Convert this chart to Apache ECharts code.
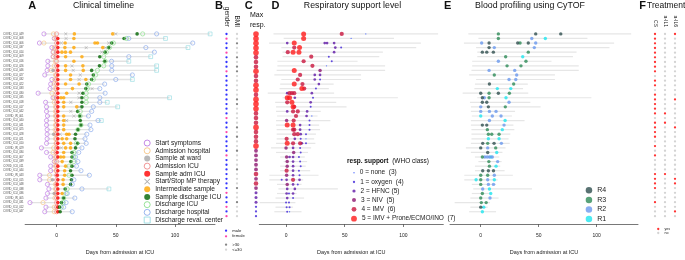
<!DOCTYPE html>
<html>
<head>
<meta charset="utf-8">
<script src="https://cdn.jsdelivr.net/npm/echarts@6/dist/echarts.min.js"></script>
<style>html,body{margin:0;padding:0;background:#fff}#main{width:685px;height:260px}</style>
</head>
<body>
<div id="main"></div>
<script>
// patients, top row = longest ICU stay
var patients = ['COVID_ICU_049','COVID_ICU_008','COVID_ICU_006','COVID_ICU_037','COVID_ICU_014','COVID_ICU_009','COVID_ICU_016','COVID_ICU_026','COVID_ICU_046','COVID_ICU_027',
  'COVID_ICU_032','COVID_ICU_022','COVID_ICU_033','COVID_ICU_030','COVID_ICU_035','COVID_ICU_018','COVID_ICU_017','COVID_ICU_042','COVID_IR_001','COVID_ICU_040',
  'COVID_ICU_041','COVID_ICU_025','COVID_ICU_028','COVID_ICU_021','COVID_ICU_010','COVID_IR_029','COVID_ICU_034','COVID_ICU_007','COVID_ICU_039','COVID_ICU_011',
  'COVID_ICU_044','COVID_IR_043','COVID_ICU_015','COVID_ICU_048','COVID_ICU_038','COVID_ICU_036','COVID_IR_005','COVID_ICU_031','COVID_ICU_012','COVID_ICU_047'];

// A: clinical timeline (days from ICU admission)
var startSym = [-10.7,-2,-14.5,-4,-3,-3,-7.4,-7.4,-8,-10,-4,-5,-5.5,-15.6,-3,-9.3,-8.5,-8.5,-7.7,-8.5,
  -8.5,-8,-8,-8,-8.5,-12.8,-8.5,-5,-2,-5,-5,-14.2,-14.2,-7.7,-6.5,-7.7,-9,-22.5,-9,-10];
var admHosp = [-2.7,-1.3,-10.7,-2,-2.5,-2.5,-1,-2,-4.5,-1,-1.3,-2,-1,-4,-2,-2,-1,-1,-1,-0.5,
  -1,-1.3,-1.3,-1,-0.5,-2.5,-3,-1,-1.3,-1,-0.5,-6,-6,-1,-1,-1,-1.5,-11.5,-2,-2];
var sampleWard = [null,null,null,null,null,null,null,null,-3,null,null,null,null,null,null,null,null,null,null,null,
  null,null,-2.5,null,null,null,null,null,null,null,null,null,-3.5,null,null,-2,null,null,null,null];
var admICU = [0,0,0,0,0,-0.5,0,0,0,0,0,0,0,0,0,0,0,0,0,0,
  0,0,0,0,0,0,-0.5,0,0,0,0,0,0,0,0,0,0,0,0,0];
var sampleAdm = [null,1,1,1,1,1,null,1,1,1,1,1,1,1,1,1,1,1,1,1,
  1,1,1,1,1,1,0.5,1,null,1,1,0.5,1,0.5,1,1,1,1,1,1];
var mpTherapy = [[7.7,50],[8],[4,44],[25,41.5],[38],[],[],[13],[14],[20],[19],[],[30],[19],[19],[12],[19],[12],[14.6],[8.5],
  [],[],[3],[],[],[4],[],[],[],[],[],[],[],[],[],[],[],[],[],[]];
var interSample = [[15,47.4],[14.6],[7.2,32.4,34.5],[7,14.6,39],[4.5,7.5,11.7],[7.6,21.4],[14.6],[7.6,22.2],[7.6,22.5],[11.8],
  [11.8,24.7],[7.6,19],[13.4],[8.5],[3.7,6],[6],[6,17],[],[6],[6],
  [6],[6],[8.5,10.5],[4.7,8.5],[6,11.8],[7.6,11.8],[6],[3.5,6],[4.7],[7.6],
  [6.8],[6.8],[5.5],[5.5],[],[4.7],[],[],[],[]];
var sampleDisICU = [68,57,46.6,44,41,36.5,40.6,36.2,29.6,31,29.6,25.5,24.7,22.2,21.4,21.4,21.4,17.8,19.5,20,
  20.6,18,16,15.5,17.8,16,13,13,12,13,11.8,13,12.5,11.8,7.2,null,6,4.1,2.5,3];
var disICU = [72.7,59,48,44.7,42,39.8,41,39.8,34.5,33,31,27,26,25,25,25,null,20,20,null,
  20.6,18,null,null,16.8,null,14.6,14.6,14.6,10.5,null,10.5,null,null,9,8,6,5.5,4,null];
var disHosp = [84.5,61,115,75.4,82.6,61,46.4,46.6,46.6,64,50,40.6,36.5,41,36.5,36.5,31,29.6,26.9,35,
  28.2,29,25.5,24,25,21.4,18.7,16,18,16.8,20.6,27.7,14.6,13.2,21.4,9,15.4,8,6,13.2];
var disReval = [129.7,92,null,111,null,79.5,61,84.5,84.5,null,64,null,null,null,95.4,42.8,51.6,null,null,37.8,
  null,null,null,null,null,null,null,null,null,null,null,null,null,null,44.2,null,null,null,null,null];

// B: gender / BMI, rows where female or BMI > 30
var femaleRows = [1,4,8,18,21,26,34,37,39];
var bmiHighRows = [2,5,7,8,14,15,20,22,25,29,33,36];

// C: max respiratory support level per patient
var maxResp = [5,5,5,5,5,4,4,4,5,4,4,5,5,4,5,5,5,4,4,4,5,4,4,4,5,3,3,3,3,3,4,3,4,3,2,2,2,1,1,1];

// D: respiratory support [day, level]
var respRows = [
  [[15,5],[47.5,4],[68,0]], [[15,5],[55.5,0]], [[1,2],[7,5],[33,2],[35,2],[41,2]], [[7,4],[11.5,5],[42,2],[47,1]],
  [[1.5,4],[6,5],[11,5],[41,2]], [[21.5,4],[36.5,1]], [[15,4],[39,1]], [[22.5,4],[34.5,0]], [[7,5],[29,3]],
  [[12,4],[24.5,2],[29,2]], [[10,4],[24.5,2],[29,1]], [[7,5],[14,4],[28,2]], [[13.5,5],[15.5,4],[25.5,1]],
  [[1,2],[3,4],[5,4],[7,4],[22,2]], [[1,5],[3,5],[7.5,2],[23,1]], [[1,4],[5,5],[21,2]], [[6,5],[7,4],[21,1]],
  [[1,2],[6,4],[10,4],[18,2]], [[8.5,4],[17.5,2],[22,0]], [[0.5,3],[6.5,4],[20,1]], [[1,5],[6,5],[12,2],[20,1]],
  [[6,4],[7,4],[12,2],[20,1]], [[7,4],[10,4],[12.5,2],[17,1]], [[0.5,4],[7.5,2],[12.5,1],[17,0]],
  [[1,5],[6,4],[12,4],[13.5,2],[17,1]], [[0,3],[6,2],[12,1]], [[6.5,3],[12.5,1]], [[0.5,3],[3,2],[6,2],[11,1]],
  [[1,3],[6,2],[12,1]], [[1,3],[6,2],[12.5,1]], [[0.5,4],[6,2],[11,1]], [[0.5,3],[6,2],[11.5,1]],
  [[-3.7,1],[0.5,2],[6,4],[11.5,2]], [[1,3],[6,2],[10,1]], [[1,2],[7.5,2]], [[0.5,2],[2.5,1],[6,2]],
  [[1,2],[6,1]], [[0,1],[2.5,1]], [[0.5,1],[3,1]], [[1,1],[3,0]]
];
var respNames = ['0 = none  (3)','1 = oxygen  (4)','2 = HFNC (5)','3 = NIV  (5)','4 = IMV  (6)','5 = IMV + Prone/ECMO/INO  (7)'];

// E: CyTOF samples [day, cluster 1..4]
var cytofRows = [
  [[15.2,3],[47.4,4],[69,4]], [[15.2,3],[44,2],[55.7,1]], [[0.8,2],[7.2,4],[31.9,4],[33.9,3],[41,4],[47.4,2]],
  [[7.2,4],[11.7,2],[46.2,2]], [[1.4,4],[5.2,4],[10.9,4],[41,3]], [[21.5,3],[36.2,1]], [[15.2,2],[39,3]],
  [[22.7,3],[34.7,3]], [[7.2,2],[29.3,2]], [[11.7,3],[31,2]], [[24.4,2],[30.2,2]], [[7.5,4],[28.4,3]],
  [[14.3,1],[25.9,1]], [[0,4],[7.2,3],[15.2,4],[24.7,3]], [[1.4,4],[3.1,2],[7.2,3],[21.8,1]],
  [[1.4,4],[5.2,4],[24.4,2]], [[0,2],[6.6,4],[21.2,3]], [[0,2],[7.5,2],[13.2,2]], [[0,1],[10,2],[17.5,2]],
  [[7.5,2],[21,1]], [[1.4,4],[5.2,4],[20.1,2]], [[5.7,3],[18.6,1]], [[6.6,3],[9.5,3],[15.8,3]],
  [[6.6,1],[15.8,1]], [[1.7,4],[6,3],[11.5,4],[17.8,2]], [[0,4],[6,2],[12.9,3]], [[6,4],[13.8,1]],
  [[1.4,3],[3.5,2],[5.5,2],[7.5,2],[8.8,1],[10,2]], [[7,3],[14.6,2]], [[7.5,3],[13.2,1]],
  [[1.7,4],[6.6,4],[11,4]], [[0,3],[6,3],[11.7,2]], [[-4,1],[0,3],[6,2],[11.7,1]], [[0,3],[6.6,2],[11,2]],
  [[1.7,2],[7.5,1]], [[1.4,3],[8.6,1]], [[0,3],[8,2]], [[0.5,3],[4.7,3]], [[0,4],[2.6,1]], [[1.4,1]]
];

// F: treatments, rows with yes
var treatNames = ['CS','a-IL1','a-IL6'];
var treatYes = [
  [0,1,2,3,4,5,6,7,8,10,11,13,14,15,16,17,19,20,21,22,24,26,30,31,32,33,36],
  [17,19,30],
  [0,14,20,31,32,38]
];

var dayTicks = [0, 50, 100];

var FONT = 'Liberation Sans, Arial, sans-serif';
var GRID_TOP = 30, GRID_H = 198.7, Y_MIN = -0.857, Y_MAX = 41.69;
var lvlColors = ['#3d5cff','#3f22d8','#5f18a6','#8c156f','#c9163f','#ff1a1a'];
var lvlSizeD = [1.3, 2, 2.7, 3.5, 4.2, 5];
var lvlSizeC = [1.6, 2.3, 3, 3.8, 4.6, 5.6];
var clusterNames = ['R1','R2','R3','R4'];
var clusterColors = ['#1fe6ef','#6a98ee','#2e8b57','#2f4f4f'];
var crossPath = 'path://M0,1L1,0L5,4L9,0L10,1L6,5L10,9L9,10L5,6L1,10L0,9L4,5Z';

var lineStart = [], lineEnd = [];
patients.forEach(function (p, i) {
  var vals = [startSym[i], admHosp[i], admICU[i], sampleAdm[i], sampleDisICU[i], disICU[i], disHosp[i], disReval[i]]
    .concat(interSample[i], mpTherapy[i]).filter(function (v) { return v != null; });
  lineStart.push(Math.min.apply(null, vals));
  lineEnd.push(Math.max.apply(null, vals));
});

function single(arr) {
  var out = [];
  arr.forEach(function (d, i) { if (d != null) out.push([d, i]); });
  return out;
}
function multi(arr) {
  var out = [];
  arr.forEach(function (l, i) { l.forEach(function (d) { out.push([d, i]); }); });
  return out;
}

function rowLines(ax, color, width) {
  return {
    type: 'custom', xAxisIndex: ax, yAxisIndex: ax, silent: true, z: 1,
    data: patients.map(function (p, i) { return [lineStart[i], lineEnd[i], i]; }),
    encode: { x: [0, 1], y: 2 },
    renderItem: function (params, api) {
      var a = api.coord([api.value(0), api.value(2)]);
      var b = api.coord([api.value(1), api.value(2)]);
      return { type: 'line', shape: { x1: a[0], y1: a[1], x2: b[0], y2: b[1] }, style: { stroke: color, lineWidth: width } };
    }
  };
}

// hollow markers: transparent fill with a thin coloured ring
function evt(name, data, symbol, color, size, hollow) {
  var s = { type: 'scatter', name: name, data: data, xAxisIndex: 0, yAxisIndex: 0, symbol: symbol, symbolSize: size, z: 3, silent: true };
  s.itemStyle = hollow ? { color: 'rgba(255,255,255,0)', borderColor: color, borderWidth: 0.75 } : { color: color };
  return s;
}

function daysAxis(grid, min, max) {
  return {
    type: 'value', gridIndex: grid, min: min, max: max,
    name: 'Days from admission at ICU', nameLocation: 'middle', nameGap: 25,
    nameTextStyle: { fontSize: 5.5, color: '#222' },
    axisLine: { show: true, onZero: false, lineStyle: { color: '#555', width: 0.8 } },
    axisTick: { show: true, customValues: dayTicks, length: 3, lineStyle: { color: '#555', width: 0.8 } },
    axisLabel: { customValues: dayTicks, fontSize: 5, margin: 9, color: '#222' },
    splitLine: { show: false }
  };
}
function rowAxis(grid) {
  return { type: 'value', gridIndex: grid, inverse: true, min: Y_MIN, max: Y_MAX, show: false };
}
function colAxis(grid, names, size) {
  return {
    type: 'category', gridIndex: grid, data: names, position: 'top',
    axisLine: { show: false, onZero: false }, axisTick: { show: false },
    axisLabel: { rotate: 90, fontSize: size, margin: 3, color: '#222', interval: 0 }
  };
}

var grids = [
  { left: 20, width: 195, top: GRID_TOP, height: GRID_H },       // A
  { left: 221.25, width: 21, top: GRID_TOP, height: GRID_H },    // B
  { left: 250, width: 12, top: GRID_TOP, height: GRID_H },       // C
  { left: 259.3, width: 184, top: GRID_TOP, height: GRID_H },    // D
  { left: 450, width: 188, top: GRID_TOP, height: GRID_H },      // E
  { left: 650, width: 30, top: GRID_TOP, height: GRID_H }        // F
];

var yAxes = [0, 1, 2, 3, 4, 5].map(rowAxis);
yAxes[0] = {
  type: 'value', gridIndex: 0, inverse: true, min: Y_MIN, max: Y_MAX,
  axisLine: { show: false }, axisTick: { show: false }, splitLine: { show: false },
  axisLabel: {
    customValues: patients.map(function (p, i) { return i; }),
    formatter: function (v) { return patients[v] || ''; },
    fontSize: 2.7, margin: 1.5, color: '#444'
  }
};

var series = [
  rowLines(0, '#e2e2e2', 1.3),
  evt('Start symptoms', single(startSym), 'circle', '#b56be0', 4.2, true),
  evt('Admission hospital', single(admHosp), 'circle', '#f5bf79', 4.2, true),
  evt('Sample at ward', single(sampleWard), 'circle', '#a8a8a8', 3.6),
  evt('Admission ICU', single(admICU), 'circle', '#ee7d7d', 4.2, true),
  evt('Sample adm ICU', single(sampleAdm), 'circle', '#ff0000', 3.6),
  evt('Start/Stop MP therapy', multi(mpTherapy), crossPath, '#9a9a9a', 3.4),
  evt('Intermediate sample', multi(interSample), 'circle', '#ffa500', 3.6),
  evt('Sample discharge ICU', single(sampleDisICU), 'circle', '#006400', 3.6),
  evt('Discharge ICU', single(disICU), 'circle', '#7edc7e', 4.2, true),
  evt('Discharge hospital', single(disHosp), 'circle', '#7ea2ea', 4.2, true),
  evt('Discharge reval. center', single(disReval), 'rect', '#8fd8e0', 3.8, true)
];
var legendA = series.slice(1).map(function (s) { return s.name; });

// B
var male = [], female = [], bmiHi = [], bmiLo = [];
patients.forEach(function (p, i) {
  (femaleRows.indexOf(i) >= 0 ? female : male).push([0, i]);
  (bmiHighRows.indexOf(i) >= 0 ? bmiHi : bmiLo).push([1, i]);
});
[['male', male, '#0000ff'], ['female', female, '#ff1493'], ['>30', bmiHi, '#666666'], ['<=30', bmiLo, '#cccccc']].forEach(function (d) {
  series.push({ type: 'scatter', name: d[0], data: d[1], xAxisIndex: 1, yAxisIndex: 1, symbolSize: 2.3, itemStyle: { color: d[2] }, silent: true });
});

// C
series.push({
  type: 'scatter', name: 'maxResp', xAxisIndex: 2, yAxisIndex: 2, silent: true,
  data: maxResp.map(function (l, i) { return [0.5, i, l]; }),
  symbolSize: function (v) { return lvlSizeC[v[2]]; },
  itemStyle: { color: function (p) { return lvlColors[p.value[2]]; } }
});

// D
series.push(rowLines(3, '#e6e6e6', 1.2));
respNames.forEach(function (name, lvl) {
  var data = [];
  respRows.forEach(function (r, i) { r.forEach(function (p) { if (p[1] === lvl) data.push([p[0], i]); }); });
  series.push({ type: 'scatter', name: name, data: data, xAxisIndex: 3, yAxisIndex: 3, symbolSize: lvlSizeD[lvl],
    itemStyle: { color: lvlColors[lvl] }, z: 3, silent: true });
});

// E
series.push(rowLines(4, '#e6e6e6', 1.2));
clusterNames.forEach(function (name, k) {
  var data = [];
  cytofRows.forEach(function (r, i) { r.forEach(function (p) { if (p[1] === k + 1) data.push([p[0], i]); }); });
  series.push({ type: 'scatter', name: name, data: data, xAxisIndex: 4, yAxisIndex: 4, symbolSize: 3.4,
    itemStyle: { color: clusterColors[k] }, z: 3, silent: true });
});

// F
var yes = [], no = [];
treatNames.forEach(function (t, c) {
  patients.forEach(function (p, i) { (treatYes[c].indexOf(i) >= 0 ? yes : no).push([c, i]); });
});
series.push({ type: 'scatter', name: 'yes', data: yes, xAxisIndex: 5, yAxisIndex: 5, symbolSize: 2.3, itemStyle: { color: '#ff0000' }, silent: true });
series.push({ type: 'scatter', name: 'no', data: no, xAxisIndex: 5, yAxisIndex: 5, symbolSize: 2.3, itemStyle: { color: '#c8c8c8' }, silent: true });

var legends = [
  { orient: 'vertical', left: 143.7, top: 139.2, itemWidth: 6, itemHeight: 6, itemGap: 0, padding: 0,
    itemStyle: { borderWidth: 1 },
    textStyle: { fontSize: 6.6, lineHeight: 7.7, color: '#222' }, data: legendA },
  { orient: 'vertical', left: 224.9, top: 227.9, itemWidth: 2.3, itemHeight: 2.3, itemGap: 0, padding: 0,
    textStyle: { fontSize: 4.2, lineHeight: 5.6, color: '#222' }, data: ['male', 'female'] },
  { orient: 'vertical', left: 224.9, top: 242.2, itemWidth: 2.3, itemHeight: 2.3, itemGap: 0, padding: 0,
    textStyle: { fontSize: 4.2, lineHeight: 5, color: '#222' }, data: ['>30', '<=30'] },
  { orient: 'vertical', left: 585.7, top: 185.5, itemWidth: 6.5, itemHeight: 6.5, itemGap: 0, padding: 0,
    textStyle: { fontSize: 7, lineHeight: 9.6, color: '#222' }, data: ['R4', 'R3', 'R2', 'R1'] },
  { orient: 'vertical', left: 657.1, top: 227, itemWidth: 2.3, itemHeight: 2.3, itemGap: 0, padding: 0,
    textStyle: { fontSize: 3.6, lineHeight: 3.4, color: '#222' }, data: ['yes', 'no'] }
];
var respLegendY = [172.7, 182, 191, 200, 209.3, 218.7];
var respLegendSize = [1.5, 2.3, 3.2, 4, 4.8, 5.8];
respNames.forEach(function (name, lvl) {
  var s = respLegendSize[lvl];
  legends.push({ left: 354 - s / 2, top: respLegendY[lvl] - 4.6, itemWidth: s, itemHeight: s, padding: 0,
    textStyle: { fontSize: 6.5, lineHeight: 9.2, color: '#222' }, data: [name] });
});

function txt(x, y, s, size, weight, align) {
  return { type: 'text', x: x, y: y, silent: true,
    style: { text: s, fontFamily: FONT, fontSize: size, fontWeight: weight || 'normal', fill: '#111',
      textAlign: align || 'center', textVerticalAlign: 'middle' } };
}

var graphics = [
  txt(32.3, 5.5, 'A', 11, 'bold'), txt(103.5, 5.5, 'Clinical timeline', 8.8),
  txt(219, 5.5, 'B', 11, 'bold'), txt(248.6, 5.5, 'C', 11, 'bold'),
  txt(275.4, 5.5, 'D', 11, 'bold'), txt(352.5, 5.5, 'Respiratory support level', 8.8),
  txt(447.6, 5.5, 'E', 11, 'bold'), txt(530, 5.5, 'Blood profiling using CyTOF', 8.8),
  txt(642.6, 5.5, 'F', 11, 'bold'), txt(647, 5.5, 'Treatments', 8.5, 'normal', 'left'),
  txt(250, 15, 'Max', 7, 'normal', 'left'), txt(250, 25, 'resp.', 7, 'normal', 'left'),
  { type: 'text', x: 347, y: 161.7, silent: true,
    style: { text: '{b|resp. support}  (WHO class)', fontFamily: FONT, fontSize: 6.5, fill: '#111', textVerticalAlign: 'middle',
      rich: { b: { fontWeight: 'bold', fontSize: 6.5, fontFamily: FONT, fill: '#111' } } } }
];

var chart = echarts.init(document.getElementById('main'), null, { renderer: 'canvas' });
chart.setOption({
  animation: false,
  textStyle: { fontFamily: FONT },
  grid: grids,
  xAxis: [
    daysAxis(0, -26.6, 133.8),
    colAxis(1, ['gender', 'BMI'], 6.5),
    { type: 'value', gridIndex: 2, min: 0, max: 1, show: false },
    daysAxis(3, -22.8, 134.1),
    daysAxis(4, -26.5, 135.6),
    colAxis(5, treatNames, 5)
  ],
  yAxis: yAxes,
  legend: legends,
  graphic: graphics,
  series: series
});
</script>
</body>
</html>
